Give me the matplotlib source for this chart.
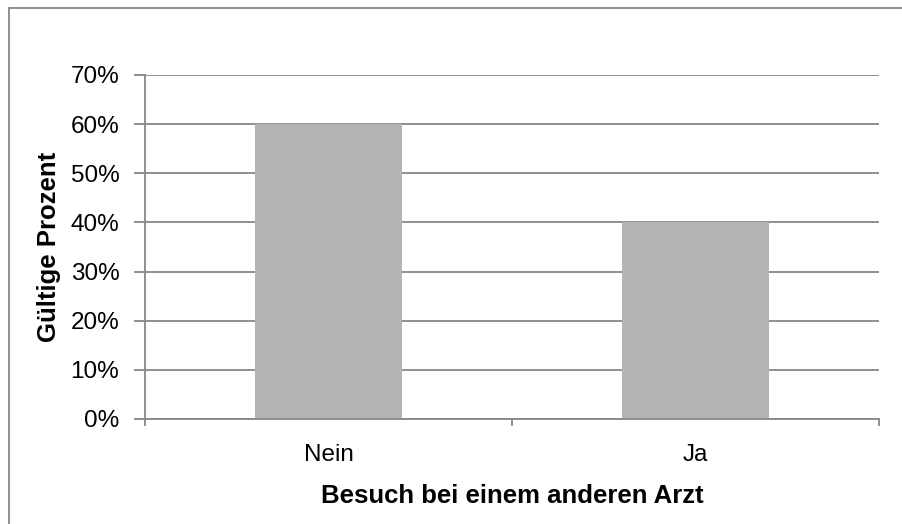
import numpy as np
import matplotlib.pyplot as plt
from matplotlib.lines import Line2D
from matplotlib.ticker import PercentFormatter

categories = ["Nein", "Ja"]
values = [60, 40]
yticks = [0, 10, 20, 30, 40, 50, 60, 70]

plt.rcParams["font.family"] = ["Liberation Sans", "DejaVu Sans"]

fig = plt.figure(figsize=(9.03, 5.24), dpi=100)
ax = fig.add_axes([0.1606, 0.2004, 0.8128, 0.6565])

grid_c = "#878787"
x = np.arange(len(categories))
ax.bar(x, values, width=0.4, color="#b3b3b3", zorder=3)

ax.set_xlim(-0.5, 1.5)
ax.set_ylim(0, 70)
ax.set_yticks(yticks)
ax.yaxis.set_major_formatter(PercentFormatter(decimals=0))
ax.set_xticks([-0.5, 0.5, 1.5])
ax.set_xticklabels([])
ax.set_xticks(x, minor=True)
ax.set_xticklabels(categories, minor=True)
ax.tick_params(axis="x", which="minor", length=0, pad=18, labelsize=17.5)
ax.tick_params(axis="x", which="major", length=5, width=1.3, color=grid_c, direction="out")
ax.tick_params(axis="y", length=8, width=1.3, color=grid_c, labelsize=17.5, pad=10.5)

ax.grid(axis="y", color=grid_c, linewidth=1.3, zorder=1)
for s in ["top", "right"]:
    ax.spines[s].set_visible(False)
for s in ["left", "bottom"]:
    ax.spines[s].set_color(grid_c)
    ax.spines[s].set_linewidth(1.3)
    ax.spines[s].set_zorder(4)

ax.set_ylabel("Gültige Prozent", fontsize=18.5, fontweight="bold", labelpad=7)
ax.set_xlabel("Besuch bei einem anderen Arzt", fontsize=18.5, fontweight="bold", labelpad=13)

# outer chart frame (only top and left edges visible)
fig.add_artist(Line2D([8.5 / 903, 8.5 / 903], [0, 1 - 7.5 / 524], color=grid_c, lw=1.3, transform=fig.transFigure))
fig.add_artist(Line2D([8.5 / 903, 1], [1 - 7.5 / 524, 1 - 7.5 / 524], color=grid_c, lw=1.3, transform=fig.transFigure))

fig.savefig("out.png", dpi=100)
